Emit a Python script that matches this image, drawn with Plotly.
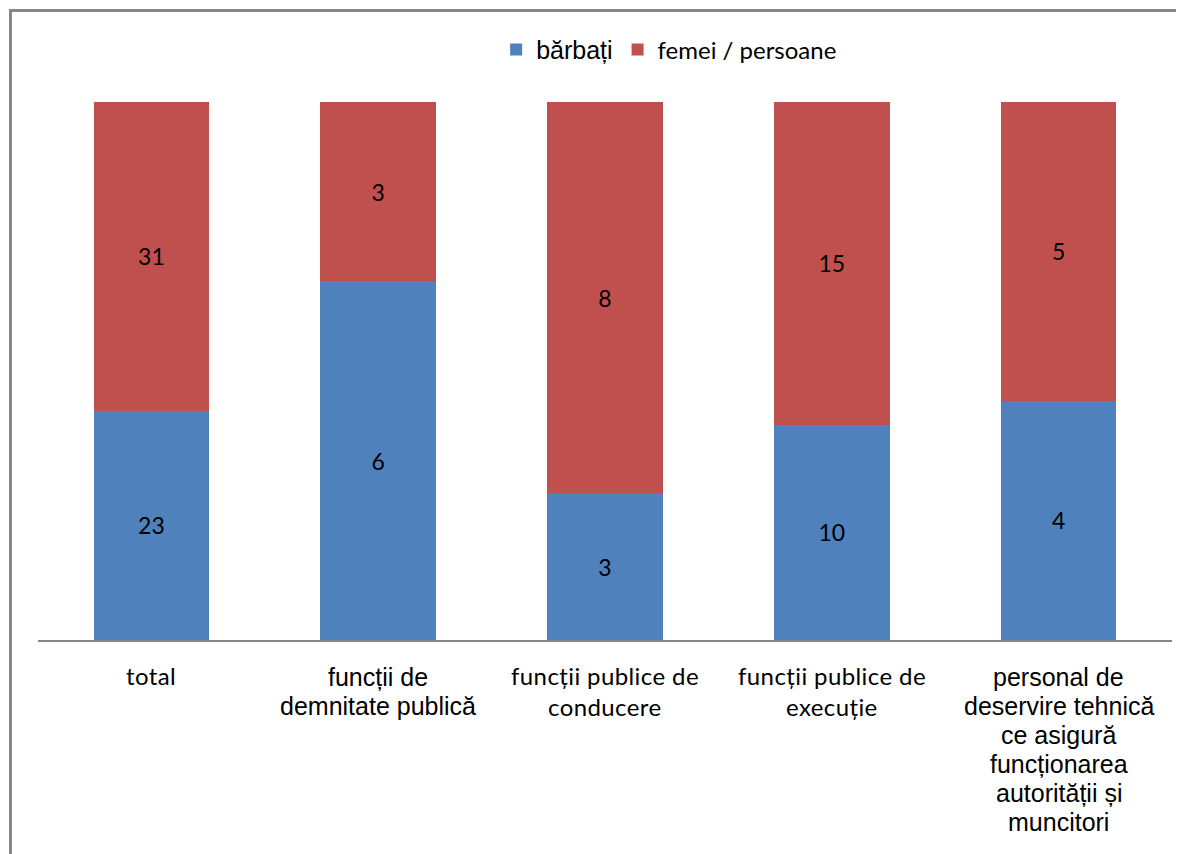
import plotly.graph_objects as go

categories = ["total", "funcții de demnitate publică", "funcții publice de conducere",
              "funcții publice de execuție",
              "personal de deservire tehnică ce asigură funcționarea autorității și muncitori"]
tick_lines = [
    ["total"],
    ["funcții de", "demnitate publică"],
    ["funcții publice de", "conducere"],
    ["funcții publice de", "execuție"],
    ["personal de", "deservire tehnică", "ce asigură", "funcționarea", "autorității și", "muncitori"],
]
tick_fonts = ["Lato", "Liberation Sans", "Lato", "Lato", "Liberation Sans"]
barbati = [23, 6, 3, 10, 4]
femei = [31, 3, 8, 15, 5]

BLUE = "#4F81BD"
RED = "#C0504D"
GRAY = "#868686"

fig = go.Figure()
fig.add_trace(go.Bar(
    x=categories, y=barbati, text=barbati, texttemplate="%{text}",
    name="<span style='font-family:Liberation Sans;font-size:25px'>bărbați</span>",
    marker=dict(color=BLUE, line=dict(width=0)),
    textposition="inside", insidetextanchor="middle", textangle=0,
    insidetextfont=dict(family="Lato", size=23, color="#000000"),
))
fig.add_trace(go.Bar(
    x=categories, y=femei, text=femei, texttemplate="%{text}",
    name="femei / persoane",
    marker=dict(color=RED, line=dict(width=0)),
    textposition="inside", insidetextanchor="middle", textangle=0,
    insidetextfont=dict(family="Lato", size=23, color="#000000"),
))

annotations = []
for cat, lines, fam in zip(categories, tick_lines, tick_fonts):
    if fam == "Lato":
        size, first, step, style = 24, 35, 31, "letter-spacing:0.4px"
    else:
        size, first, step, style = 25, 37, 29, ""
    for j, line in enumerate(lines):
        annotations.append(dict(
            x=cat, xref="x", y=0, yref="paper", yanchor="middle", xanchor="center",
            yshift=-(first + step * j), showarrow=False,
            text=f"<span style='{style}'>{line}</span>" if style else line,
            font=dict(family=fam, size=size, color="#000000"),
        ))

fig.update_layout(
    width=1184, height=854,
    margin=dict(l=30, r=20, t=94, b=222),
    barmode="stack", barnorm="percent", bargap=0.49,
    paper_bgcolor="white", plot_bgcolor="white",
    font=dict(family="Lato", size=22, color="#000000"),
    showlegend=True,
    legend=dict(orientation="h", x=0.404, xanchor="left", y=1.0967, yanchor="middle",
                font=dict(family="Lato", size=24, color="#000000"),
                traceorder="normal", itemwidth=30, bgcolor="rgba(0,0,0,0)"),
    xaxis=dict(showticklabels=False, showline=True, linecolor=GRAY, linewidth=2, ticks="",
               showgrid=False, zeroline=False),
    yaxis=dict(range=[0, 100], visible=False, showgrid=False, zeroline=False),
    annotations=annotations,
    shapes=[dict(type="rect", xref="paper", yref="paper",
                 x0=-0.02425, x1=1.03, y0=-0.45, y1=1.1701,
                 line=dict(color=GRAY, width=3), fillcolor="rgba(0,0,0,0)", layer="above")],
)

fig.write_html("out.html")
